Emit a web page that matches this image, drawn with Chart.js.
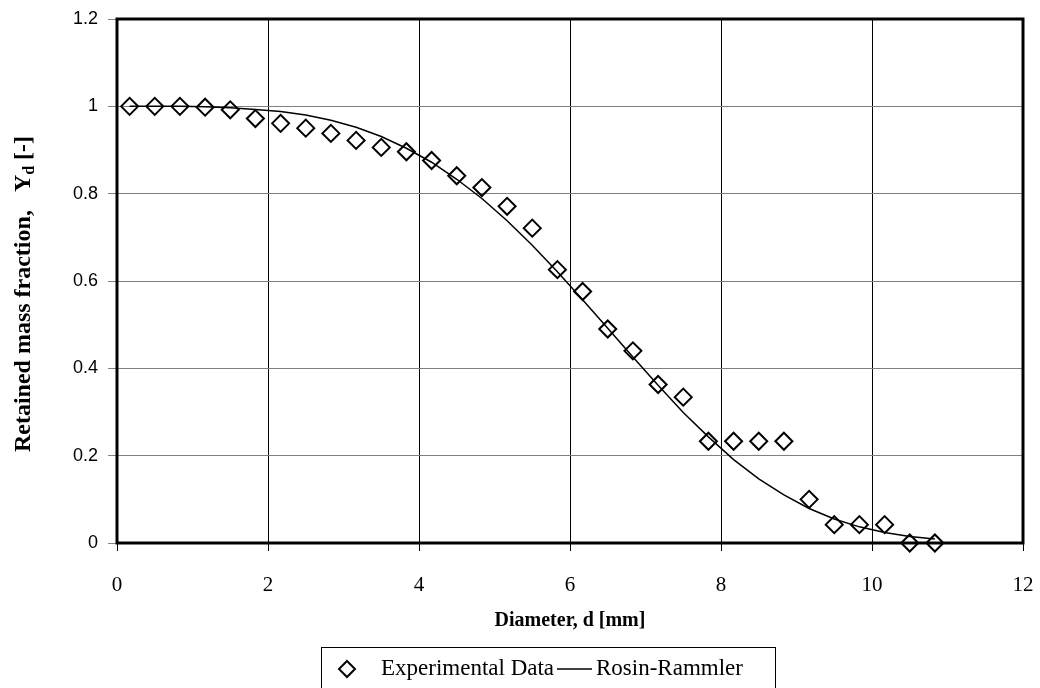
<!DOCTYPE html>
<html>
<head>
<meta charset="utf-8">
<script src="https://cdn.jsdelivr.net/npm/chart.js@4.4.1/dist/chart.umd.min.js"></script>
<style>
  body { margin: 0; background: #fff; }
  canvas { display: block; }
</style>
</head>
<body>
<canvas id="grafico-rosin" width="1040" height="688"></canvas>
<script>
// Diâmetros medidos (mm)
const diametros = [0.167, 0.5, 0.833, 1.167, 1.5, 1.833, 2.167, 2.5, 2.833, 3.167, 3.5,
  3.833, 4.167, 4.5, 4.833, 5.167, 5.5, 5.833, 6.167, 6.5, 6.833, 7.167, 7.5,
  7.833, 8.167, 8.5, 8.833, 9.167, 9.5, 9.833, 10.167, 10.5, 10.833];

// Fração mássica retida - dados experimentais
const fracaoExperimental = [1.000, 1.000, 1.000, 0.998, 0.992, 0.972, 0.961, 0.950, 0.938,
  0.922, 0.906, 0.896, 0.876, 0.841, 0.814, 0.771, 0.721, 0.626, 0.576, 0.490, 0.440,
  0.363, 0.334, 0.233, 0.233, 0.233, 0.233, 0.100, 0.042, 0.042, 0.042, 0.000, 0.000];

// Fração mássica retida - curva Rosin-Rammler
const fracaoRosin = [1.000, 1.000, 1.000, 0.999, 0.997, 0.993, 0.988, 0.980, 0.968,
  0.952, 0.931, 0.904, 0.872, 0.833, 0.789, 0.738, 0.682, 0.621, 0.557, 0.492, 0.426,
  0.361, 0.299, 0.243, 0.191, 0.147, 0.110, 0.079, 0.055, 0.037, 0.024, 0.015, 0.009];

// Marcas dos eixos
const ticksX = [0, 2, 4, 6, 8, 10, 12];
const ticksY = [0, 0.2, 0.4, 0.6, 0.8, 1, 1.2];
const rotulosY = ['0', '0.2', '0.4', '0.6', '0.8', '1', '1.2'];

const serif = "'Liberation Serif', 'Times New Roman', serif";
const sans = "'Liberation Sans', Arial, sans-serif";

// Desenha a moldura, os títulos dos eixos e a legenda
const extras = {
  id: 'extras',
  beforeDatasetsDraw(chart) {
    const { ctx, chartArea: a } = chart;
    ctx.save();
    ctx.strokeStyle = '#000';
    ctx.lineWidth = 3;
    ctx.strokeRect(a.left, a.top, a.right - a.left, a.bottom - a.top);
    ctx.restore();
  },
  afterDraw(chart) {
    const { ctx, chartArea: a } = chart;
    ctx.save();
    ctx.fillStyle = '#000';

    // título do eixo x
    ctx.font = 'bold 20px ' + serif;
    ctx.textAlign = 'center';
    ctx.textBaseline = 'middle';
    ctx.fillText('Diameter, d [mm]', (a.left + a.right) / 2, 621);

    // título do eixo y (com subscrito)
    ctx.save();
    ctx.translate(22, 294);
    ctx.rotate(-Math.PI / 2);
    ctx.textAlign = 'left';
    ctx.textBaseline = 'alphabetic';
    const parte1 = 'Retained mass fraction,   Y';
    const parte2 = 'd';
    const parte3 = ' [-]';
    ctx.font = 'bold 24px ' + serif;
    const w1 = ctx.measureText(parte1).width;
    const w3 = ctx.measureText(parte3).width;
    ctx.font = 'bold 16px ' + serif;
    const w2 = ctx.measureText(parte2).width;
    let x = -(w1 + w2 + w3) / 2;
    ctx.font = 'bold 24px ' + serif;
    ctx.fillText(parte1, x, 8);
    x += w1;
    ctx.font = 'bold 16px ' + serif;
    ctx.fillText(parte2, x, 12);
    x += w2;
    ctx.font = 'bold 24px ' + serif;
    ctx.fillText(parte3, x, 8);
    ctx.restore();

    // legenda
    const ds = chart.data.datasets;
    ctx.strokeStyle = '#000';
    ctx.lineWidth = 1;
    ctx.strokeRect(321.5, 647.5, 454, 60);
    const yl = 669;
    ctx.lineWidth = 2;
    ctx.beginPath();
    ctx.moveTo(347, yl - 8);
    ctx.lineTo(355, yl);
    ctx.lineTo(347, yl + 8);
    ctx.lineTo(339, yl);
    ctx.closePath();
    ctx.stroke();
    ctx.font = '23px ' + serif;
    ctx.textAlign = 'left';
    ctx.textBaseline = 'middle';
    ctx.fillText(ds[0].label, 381, yl);
    ctx.lineWidth = 1.5;
    ctx.beginPath();
    ctx.moveTo(557, yl);
    ctx.lineTo(592, yl);
    ctx.stroke();
    ctx.fillText(ds[1].label, 596, yl);
    ctx.restore();
  }
};

const ctx = document.getElementById('grafico-rosin').getContext('2d');

const grafico = new Chart(ctx, {
  type: 'scatter',
  data: {
    datasets: [
      {
        label: 'Experimental Data',
        data: diametros.map((d, i) => ({ x: d, y: fracaoExperimental[i] })),
        pointStyle: 'rectRot',
        pointRadius: 8.5,
        pointBorderWidth: 2,
        pointBorderColor: '#000',
        pointBackgroundColor: 'rgba(0,0,0,0)',
        showLine: false,
        clip: false
      },
      {
        label: 'Rosin-Rammler',
        data: diametros.map((d, i) => ({ x: d, y: fracaoRosin[i] })),
        showLine: true,
        borderColor: '#000',
        borderWidth: 1.5,
        pointRadius: 0,
        tension: 0,
        fill: false
      }
    ]
  },
  options: {
    responsive: false,
    animation: false,
    layout: { padding: { top: 19, right: 17, left: 0, bottom: 0 } },
    plugins: {
      legend: { display: false },
      tooltip: { enabled: false }
    },
    scales: {
      x: {
        type: 'linear',
        min: 0,
        max: 12,
        afterBuildTicks: (escala) => { escala.ticks = ticksX.map(v => ({ value: v })); },
        afterFit: (escala) => {
          escala.height = 145;
          escala.paddingLeft = 0;
          escala.paddingRight = 0;
        },
        border: { display: false },
        grid: { color: '#000', lineWidth: 1, tickColor: '#000', tickLength: 8 },
        ticks: {
          color: '#000',
          font: { family: serif, size: 21 },
          padding: 22,
          maxRotation: 0
        }
      },
      y: {
        type: 'linear',
        min: 0,
        max: 1.2,
        afterBuildTicks: (escala) => { escala.ticks = ticksY.map(v => ({ value: v })); },
        afterFit: (escala) => {
          escala.width = 117;
          escala.paddingTop = 0;
          escala.paddingBottom = 0;
        },
        border: { display: false },
        grid: { color: '#808080', lineWidth: 1, tickColor: '#808080', tickLength: 9 },
        ticks: {
          color: '#000',
          font: { family: sans, size: 18 },
          padding: 10,
          callback: (valor, indice) => rotulosY[indice]
        }
      }
    }
  },
  plugins: [extras]
});
</script>
</body>
</html>
